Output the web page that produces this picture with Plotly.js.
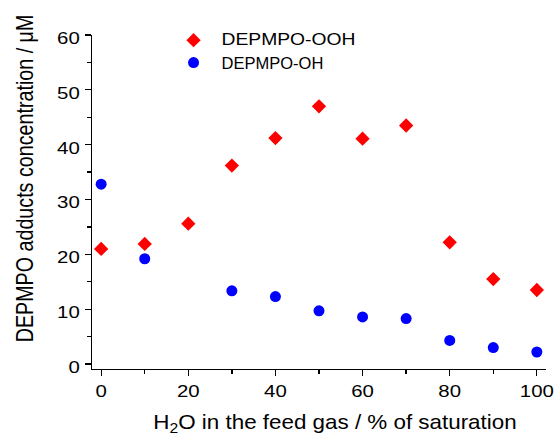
<!DOCTYPE html>
<html><head><meta charset="utf-8">
<script src="https://cdn.plot.ly/plotly-3.0.1.min.js"></script>
<style>html,body{margin:0;padding:0;background:#fff}#c{width:556px;height:439px}</style>
</head><body><div id="c"></div>
<script>
const h2o = [0, 10, 20, 30, 40, 50, 60, 70, 80, 90, 100];
const oohVals = [21.0, 21.9, 25.6, 36.2, 41.2, 47.0, 41.1, 43.5, 22.2, 15.5, 13.5];
const ohX = [0, 10, 30, 40, 50, 60, 70, 80, 90, 100];
const ohVals = [32.8, 19.2, 13.35, 12.3, 9.7, 8.6, 8.3, 4.3, 3.0, 2.2];
const names = ["DEPMPO-OOH", "DEPMPO-OH"];
const xTicks = [0, 20, 40, 60, 80, 100];
const xMinor = [10, 30, 50, 70, 90];
const yTicks = [0, 10, 20, 30, 40, 50, 60];
const yMinor = [5, 15, 25, 35, 45, 55];

const fam = "Liberation Sans, Arial, sans-serif";
const f = s => ({family: fam, size: s, color: "#000"});
const data = [
  {x: h2o, y: oohVals, name: names[0], type: "scatter", mode: "markers", legend: "legend",
   marker: {symbol: "diamond", size: 11, color: "#ff0000"}},
  {x: ohX, y: ohVals, name: names[1], type: "scatter", mode: "markers", legend: "legend2",
   marker: {symbol: "circle", size: 11, color: "#0000ff"}}
];
const legBase = {xanchor: "left", yanchor: "top", bgcolor: "rgba(0,0,0,0)", font: f(16.5), itemwidth: 46};
const axBase = {showgrid: false, zeroline: false, showline: true, linecolor: "#000", linewidth: 1.3,
  ticks: "outside", ticklen: 6, tickwidth: 1.3, tickcolor: "#000", tickfont: f(17)};
const layout = {
  width: 556, height: 439,
  margin: {l: 92, r: 10, t: 35, b: 70},
  paper_bgcolor: "#fff", plot_bgcolor: "#fff",
  font: f(17),
  showlegend: true,
  legend: Object.assign({x: 0.162, y: 1.036}, legBase),
  legend2: Object.assign({x: 0.162, y: 0.969}, legBase),
  xaxis: Object.assign({}, axBase, {range: [-2.1, 102.1], tickvals: xTicks, ticklabelstandoff: 1.5,
          minor: {tickvals: xMinor, ticks: "outside", ticklen: 4, tickwidth: 1.3, tickcolor: "#000"},
          title: {text: "H<sub>2</sub>O in the feed gas / % of saturation", font: f(20), standoff: 15}}),
  yaxis: Object.assign({}, axBase, {range: [-0.9, 60], tickvals: yTicks,
          minor: {tickvals: yMinor, ticks: "outside", ticklen: 4, tickwidth: 1.3, tickcolor: "#000"},
          title: {text: "DEPMPO adducts concentration / μM", font: f(19.7), standoff: 23}})
};

// the reference's lettering is drawn wider than plain Arial: widen each text about its anchor
function widen(gd) {
  gd.querySelectorAll('.legend [clip-path]').forEach(e => e.removeAttribute('clip-path'));
  const rules = [
    ['.xtick text', 1.2, 0, 0],
    ['.ytick text', 1.2, -1.5, 3],
    ['.legend text', 1.17, 0, -1.5],
    ['.g-xtitle text', 1.12, 16, 0],
    ['.g-ytitle text', 1.2, 23.5, 0]
  ];
  rules.forEach(([sel, s, dx, dy]) => {
    gd.querySelectorAll(sel).forEach(t => {
      if (t.dataset.widened) return;
      const x = parseFloat(t.getAttribute('x') || 0), y = parseFloat(t.getAttribute('y') || 0);
      const tr = t.getAttribute('transform') || '';
      const sc = /rotate/.test(tr) ? `scale(1,${s})` : `scale(${s},1)`;
      t.setAttribute('transform', `${tr} translate(${x + dx},${y + dy}) ${sc} translate(${-x},${-y})`);
      t.dataset.widened = '1';
    });
  });
}
const gd = document.getElementById("c");
Plotly.newPlot(gd, data, layout, {displayModeBar: false, staticPlot: true}).then(widen);
</script></body></html>
